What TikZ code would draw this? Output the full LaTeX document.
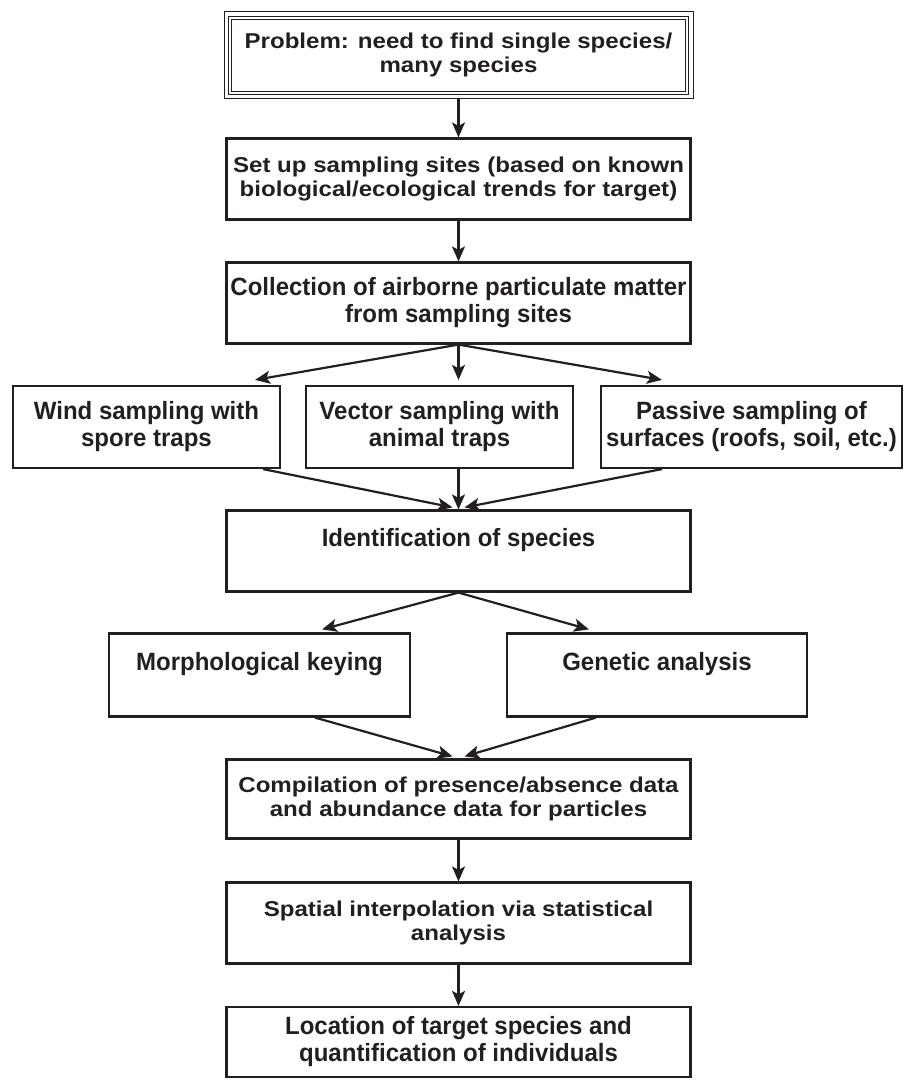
\documentclass[tikz,border=0pt]{standalone}
\usepackage{fontspec}
\usepackage{tikz}
\usetikzlibrary{arrows.meta,fit}

\newfontfamily\widefont[FakeStretch=1.12]{Liberation Sans}
\newfontfamily\narrowfont[FakeStretch=0.96]{Liberation Sans}
\definecolor{ink}{HTML}{231F20}

\tikzset{
	stage/.style={draw=ink, text=ink, line width=2.2pt, minimum width=464pt, minimum height=81pt, align=center, inner sep=2pt},
	wide/.style={font=\widefont\bfseries\fontsize{21.5}{24}\selectfont},
	narrow/.style={font=\narrowfont\bfseries\fontsize{25}{27}\selectfont},
}

\begin{document}
\begin{tikzpicture}[x=1pt, y=1pt, node distance=124pt, >={Stealth[length=15pt,width=13pt,inset=3.5pt]}, line width=2.2pt, draw=ink]
	\useasboundingbox (0,0) rectangle (904,-1080);

	\node[stage,wide,double,double distance=2pt,line width=1pt,minimum width=457pt,minimum height=75pt] (problem) at (458.5,-55) {Problem: need to find single species/\\many species};
	\node[draw=ink,line width=1pt,fit=(problem),inner sep=5.5pt] (frame) {};
	\node[stage,wide]   (setup)   [below of=problem] {Set up sampling sites (based on known\\biological/ecological trends for target)};
	\node[stage,narrow] (collect) [below of=setup]   {Collection of airborne particulate matter\\from sampling sites};

	\node[stage,narrow,minimum width=267pt,minimum height=82pt] (vector)  [below of=collect, xshift=-19pt]    {Vector sampling with\\animal traps};
	\node[stage,narrow,minimum width=267pt,minimum height=82pt] (wind)    [left of=vector, node distance=293pt]  {Wind sampling with\\spore traps};
	\node[stage,narrow,minimum width=301pt,minimum height=82pt] (passive) [right of=vector, node distance=312pt] {Passive sampling of\\surfaces (roofs, soil, etc.)};

	\draw [arrows=->] (frame) -- (setup);
	\draw [arrows=->] (setup) -- (collect);
	\draw [arrows=->] (collect.south) -- ([xshift=-26pt,yshift=5pt]wind.north east);
	\draw [arrows=->] (collect.south) -- ([xshift=19pt,yshift=5pt]vector.north);
	\draw [arrows=->] (collect.south) -- ([xshift=62pt,yshift=5pt]passive.north west);

	\node[stage,narrow] (ident) [below of=collect, node distance=248pt] {Identification of species\\\mbox{}};
	\node[stage,narrow,minimum width=301pt,minimum height=83pt] (morph)   [below of=ident, xshift=-199pt]  {Morphological keying\\\mbox{}};
	\node[stage,narrow,minimum width=300pt,minimum height=83pt] (genetic) [below of=ident, xshift=198.5pt] {Genetic analysis\\\mbox{}};

	\draw [arrows=->] ([xshift=-18pt]wind.south east)   -- ([xshift=-6pt,yshift=2pt]ident.north);
	\draw [arrows=->] ([xshift=19pt]vector.south)       -- (ident.north);
	\draw [arrows=->] ([xshift=62pt]passive.south west) -- ([xshift=6pt,yshift=2pt]ident.north);
	\draw [arrows=->] (ident.south) -- ([xshift=-89pt,yshift=3pt]morph.north east);
	\draw [arrows=->] (ident.south) -- ([xshift=83pt,yshift=3pt]genetic.north west);

	\node[stage,wide,minimum height=79pt] (compile) [below of=ident, node distance=248pt] {Compilation of presence/absence data\\and abundance data for particles};
	\node[stage,wide]   (spatial)  [below of=compile] {Spatial interpolation via statistical\\analysis};
	\node[stage,narrow,minimum height=70pt] (location) [below of=spatial, node distance=119pt] {Location of target species and\\quantification of individuals};

	\draw [arrows=->] ([xshift=-96pt]morph.south east)  -- ([xshift=-6pt,yshift=2pt]compile.north);
	\draw [arrows=->] ([xshift=90pt]genetic.south west) -- ([xshift=6pt,yshift=2pt]compile.north);
	\draw [arrows=->] (compile) -- (spatial);
	\draw [arrows=->] (spatial) -- (location);
\end{tikzpicture}
\end{document}
